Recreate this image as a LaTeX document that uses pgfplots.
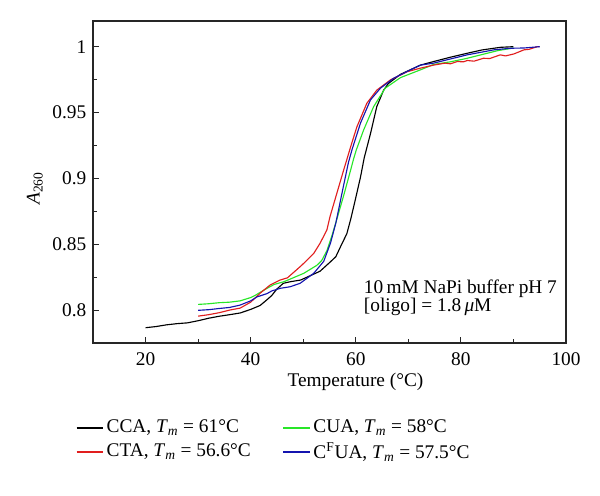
\documentclass[border=0pt]{standalone}
\usepackage{fontspec}
\setmainfont{Liberation Serif}
\usepackage{pgfplots}
\pgfplotsset{compat=1.18}
\definecolor{cred}{RGB}{225,30,30}
\definecolor{cgreen}{RGB}{40,230,40}
\definecolor{cblue}{RGB}{20,20,175}
\begin{document}
\fontsize{14.5}{16.5}\selectfont
\begin{tikzpicture}[font=\fontsize{14.5}{16.5}\selectfont]
\useasboundingbox (-69.75pt,-114.75pt) rectangle (380.25pt,257.25pt);
\begin{axis}[
  scale only axis, width=354.75pt, height=241.5pt,
  xmin=10, xmax=100, ymin=0.775, ymax=1.0195,
  xtick={20,40,60,80,100}, ytick={0.8,0.85,0.9,0.95,1},
  xticklabels={20,40,60,80,100},
  yticklabels={0.8,0.85,0.9,0.95,1},
  tick label style={font=\rmfamily\fontsize{14.5}{16.5}\selectfont},
  minor x tick num=1, minor y tick num=1,
  tick align=inside, tick pos=left,
  major tick length=4.5pt, minor tick length=3pt,
  axis line style={line width=0.9pt, black!85},
  every tick/.style={line width=0.8pt, black!85},
  /pgf/number format/assume math mode=true,
  xticklabel style={yshift=-2pt},
  xlabel={Temperature (°C)},
  xlabel style={at={(axis description cs:0.555,-0.121)}, anchor=center},
  ylabel={\textit{A}\textsubscript{260}},
  ylabel style={at={(axis description cs:-0.123,0.48)}, anchor=center},
  legend columns=2,
  legend cell align=left,
  legend style={draw=none, fill=none, at={(axis description cs:-0.045,-0.222)}, anchor=north west,
    /tikz/every even column/.append style={column sep=22pt},
    row sep=1pt},
  legend image code/.code={\draw[#1, line width=1pt] (0pt,0pt) -- (20pt,0pt);},
  every axis plot/.append style={line width=0.85pt, line join=round},
]
\addplot[black] coordinates {
(20,0.7866)(22,0.7875)(24,0.7888)(26,0.7897)(28,0.7903)(30,0.7919)(32,0.7938)(34,0.7953)(36,0.7965)(38,0.7978)(40,0.8005)(41.8,0.8035)(43,0.8075)(44,0.811)(45,0.816)(46.2,0.8203)(47.5,0.8215)(49.5,0.8228)(51,0.8255)(53.2,0.8295)(55,0.836)(56.2,0.8405)(57.2,0.849)(58.3,0.858)(59.1,0.870)(59.9,0.8836)(60.9,0.901)(61.6,0.9155)(62.8,0.934)(64,0.9545)(65.3,0.967)(66.2,0.972)(68.5,0.979)(72.3,0.986)(74.8,0.9887)(78,0.992)(81.2,0.995)(84,0.9975)(87.5,0.9995)(90,1.0)
};
\addlegendentry{CCA, \textit{T}\textsubscript{\textit{m}} = 61°C}
\addplot[cgreen] coordinates {
(30,0.8043)(32,0.8048)(34,0.8056)(36,0.806)(38,0.807)(40,0.8095)(41,0.8115)(43.1,0.8165)(44.5,0.8195)(46.3,0.8215)(47.5,0.8235)(50.1,0.8279)(52.6,0.834)(53.5,0.8375)(54.5,0.845)(55.5,0.857)(56.4,0.869)(57.7,0.887)(59,0.906)(59.6,0.915)(60.1,0.9216)(61.5,0.9368)(63.4,0.9545)(65.6,0.9685)(68.5,0.9765)(72.3,0.9824)(74.8,0.9865)(78,0.9885)(81,0.991)(84,0.994)(87,0.997)(90,0.999)
};
\addlegendentry{CUA, \textit{T}\textsubscript{\textit{m}} = 58°C}
\addplot[cred] coordinates {
(30,0.7954)(32,0.7965)(34,0.798)(36,0.8)(38,0.8015)(40,0.806)(42,0.8135)(43.7,0.819)(45.6,0.8228)(47,0.8245)(49.4,0.8329)(50.1,0.8355)(52,0.843)(53.2,0.8507)(54.5,0.8608)(55.1,0.871)(56.4,0.8887)(57.7,0.9064)(58.2,0.913)(59.1,0.925)(60.2,0.939)(62.1,0.957)(64,0.967)(66.6,0.9748)(69.8,0.981)(72.3,0.9837)(74.8,0.986)(77,0.9875)(78,0.987)(79.3,0.9887)(80.5,0.9885)(81.2,0.9895)(82.5,0.989)(84.3,0.9912)(85.5,0.991)(87.5,0.9938)(88.5,0.993)(90.1,0.9945)(92,0.9976)(93,0.998)(94.5,1.0)(95,1.0)
};
\addlegendentry{CTA, \textit{T}\textsubscript{\textit{m}} = 56.6°C}
\addplot[cblue] coordinates {
(30,0.7998)(32,0.8003)(34,0.8012)(36,0.802)(38,0.8038)(40,0.807)(41.2,0.810)(43.1,0.8125)(44,0.8145)(45.6,0.8165)(47.5,0.8177)(49.4,0.8203)(52,0.8279)(53.9,0.837)(55.2,0.851)(56.2,0.866)(57.7,0.895)(58.6,0.912)(59.3,0.922)(60.9,0.942)(62.8,0.9596)(64.7,0.9685)(67.2,0.976)(70.4,0.9824)(72.3,0.986)(74.8,0.9875)(81.2,0.9938)(86.3,0.9976)(89.4,0.9988)(92,0.999)(95,1.0)
};
\addlegendentry{C\textsuperscript{F}UA, \textit{T}\textsubscript{\textit{m}} = 57.5°C}
\node[anchor=east, align=left, font=\fontsize{14.5}{14}\selectfont] at (axis description cs:0.995,0.14) {10\,mM NaPi buffer pH 7\\{[}oligo{]} = 1.8\,\textit{μ}M};
\end{axis}
\end{tikzpicture}
\end{document}
